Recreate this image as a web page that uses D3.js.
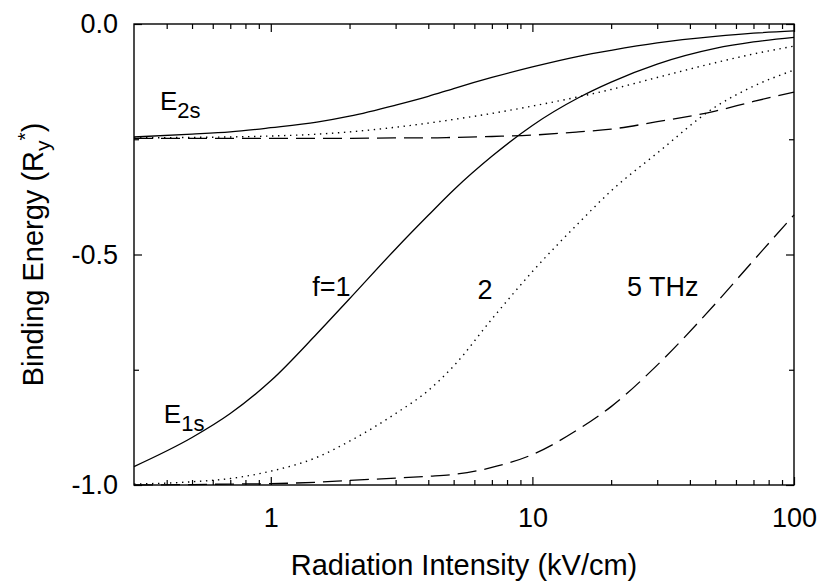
<!DOCTYPE html>
<html>
<head>
<meta charset="utf-8">
<script src="https://cdn.jsdelivr.net/npm/d3@7"></script>
<style>
  body { margin: 0; background: #fff; }
  text { fill: #000; }
</style>
</head>
<body>
<svg id="chart" width="822" height="585"></svg>
<script>
// radiation intensity (kV/cm), shared by every curve
const intensity = [0.3, 0.5, 0.7, 1, 1.5, 2, 3, 4, 5, 7, 10, 15, 20, 30, 50, 70, 100];

// binding energies (Ry*)
const e2sF1 = [-0.245, -0.239, -0.234, -0.225, -0.213, -0.200, -0.176, -0.157, -0.140, -0.116, -0.093, -0.070, -0.057, -0.041, -0.027, -0.020, -0.015];
const e1sF1 = [-0.960, -0.897, -0.845, -0.774, -0.672, -0.596, -0.488, -0.415, -0.360, -0.287, -0.220, -0.160, -0.126, -0.087, -0.053, -0.039, -0.029];
const e2sF2 = [-0.247, -0.246, -0.245, -0.243, -0.239, -0.234, -0.224, -0.215, -0.207, -0.194, -0.178, -0.158, -0.142, -0.116, -0.084, -0.065, -0.048];
const e1sF2 = [-0.998, -0.993, -0.986, -0.970, -0.940, -0.905, -0.845, -0.795, -0.742, -0.640, -0.537, -0.432, -0.362, -0.280, -0.180, -0.135, -0.100];
const e2sF5 = [-0.248, -0.248, -0.248, -0.248, -0.248, -0.248, -0.247, -0.247, -0.246, -0.244, -0.241, -0.234, -0.228, -0.212, -0.189, -0.168, -0.148];
const e1sF5 = [-1.000, -0.999, -0.998, -0.997, -0.994, -0.990, -0.985, -0.981, -0.977, -0.962, -0.934, -0.879, -0.830, -0.740, -0.607, -0.513, -0.414];

// ticks
const xMajorTicks = [1, 10, 100];
const xMinorTicks = [0.4, 0.5, 0.6, 0.7, 0.8, 0.9, 2, 3, 4, 5, 6, 7, 8, 9, 20, 30, 40, 50, 60, 70, 80, 90];
const yMajorTicks = [0, -0.5, -1.0];
const yMinorTicks = [-0.25, -0.75];

// annotations, anchored in data units
const labelText = ['f=1', '2', '5 THz'];
const labelX = [1.44, 6.17, 23.0];
const labelY = [-0.590, -0.597, -0.590];

const MARGIN = { LEFT: 134, RIGHT: 28, TOP: 24, BOTTOM: 100 };
const WIDTH = 822 - MARGIN.LEFT - MARGIN.RIGHT;
const HEIGHT = 585 - MARGIN.TOP - MARGIN.BOTTOM;
const FONT = '"Liberation Sans", Arial, Helvetica, sans-serif';

const svg = d3.select('#chart');
const g = svg.append('g')
    .attr('transform', `translate(${MARGIN.LEFT}, ${MARGIN.TOP})`);

const x = d3.scaleLog().domain([0.3, 100]).range([0, WIDTH]);
const y = d3.scaleLinear().domain([-1, 0]).range([HEIGHT, 0]);

// curves
const series = [
    { values: e2sF1, dash: null },
    { values: e1sF1, dash: null },
    { values: e2sF2, dash: '1.4,4.6' },
    { values: e1sF2, dash: '1.4,4.6' },
    { values: e2sF5, dash: '19,8' },
    { values: e1sF5, dash: '19,8' }
];

const line = d3.line()
    .x((d, i) => x(intensity[i]))
    .y(d => y(d))
    .curve(d3.curveMonotoneX);

g.selectAll('path.curve')
    .data(series)
    .enter()
    .append('path')
    .attr('class', 'curve')
    .attr('fill', 'none')
    .attr('stroke', '#000')
    .attr('stroke-width', d => d.dash === '1.4,4.6' ? 1.4 : 1.3)
    .attr('stroke-dasharray', d => d.dash)
    .attr('d', d => line(d.values));

// axes, ticks pointing inward on all four sides
function styleAxis(sel) {
    sel.select('.domain').remove();
    sel.attr('font-family', FONT).attr('font-size', 27);
    sel.selectAll('line').attr('stroke-width', 1.2);
}

g.append('g')
    .attr('transform', `translate(0, ${HEIGHT})`)
    .call(d3.axisBottom(x).tickValues(xMajorTicks).tickFormat(d3.format('~g')).tickSize(-8))
    .call(styleAxis)
    .selectAll('text').attr('y', 42).attr('dy', 0);
g.append('g')
    .attr('transform', `translate(0, ${HEIGHT})`)
    .call(d3.axisBottom(x).tickValues(xMinorTicks).tickFormat('').tickSize(-5))
    .call(styleAxis);
g.append('g')
    .call(d3.axisTop(x).tickValues(xMajorTicks).tickFormat('').tickSize(-8))
    .call(styleAxis);
g.append('g')
    .call(d3.axisTop(x).tickValues(xMinorTicks).tickFormat('').tickSize(-5))
    .call(styleAxis);

g.append('g')
    .call(d3.axisLeft(y).tickValues(yMajorTicks).tickFormat(d => d.toFixed(1)).tickSize(-8).tickPadding(16))
    .call(styleAxis);
g.append('g')
    .call(d3.axisLeft(y).tickValues(yMinorTicks).tickFormat('').tickSize(-5))
    .call(styleAxis);
g.append('g')
    .attr('transform', `translate(${WIDTH}, 0)`)
    .call(d3.axisRight(y).tickValues(yMajorTicks).tickFormat('').tickSize(-8))
    .call(styleAxis);
g.append('g')
    .attr('transform', `translate(${WIDTH}, 0)`)
    .call(d3.axisRight(y).tickValues(yMinorTicks).tickFormat('').tickSize(-5))
    .call(styleAxis);

// frame
g.append('rect')
    .attr('width', WIDTH)
    .attr('height', HEIGHT)
    .attr('fill', 'none')
    .attr('stroke', '#000')
    .attr('stroke-width', 1.4);

// axis titles
g.append('text')
    .attr('x', WIDTH / 2)
    .attr('y', HEIGHT + 90)
    .attr('text-anchor', 'middle')
    .attr('font-family', FONT)
    .attr('font-size', 29)
    .text('Radiation Intensity (kV/cm)');

let yTitle = g.append('text')
    .attr('transform', `translate(${43 - MARGIN.LEFT}, ${HEIGHT / 2}) rotate(-90)`)
    .attr('text-anchor', 'middle')
    .attr('font-family', FONT)
    .attr('font-size', 29);
yTitle.append('tspan').text('Binding Energy (R');
yTitle.append('tspan').attr('font-size', 21).attr('dy', 7).text('y');
yTitle.append('tspan').attr('font-size', 21).attr('dy', -18).text('*');
yTitle.append('tspan').attr('dy', 11).text(')');

// curve annotations
g.selectAll('text.note')
    .data(labelText)
    .enter()
    .append('text')
    .attr('class', 'note')
    .attr('x', (d, i) => x(labelX[i]))
    .attr('y', (d, i) => y(labelY[i]))
    .attr('font-family', FONT)
    .attr('font-size', 27)
    .text(d => d);

// level labels E2s / E1s
const levelText = ['2s', '1s'];
const levelX = [0.377, 0.390];
const levelY = [-0.187, -0.866];
levelText.forEach((sub, i) => {
    let t = g.append('text')
        .attr('x', x(levelX[i]))
        .attr('y', y(levelY[i]))
        .attr('font-family', FONT)
        .attr('font-size', 26);
    t.append('tspan').text('E');
    t.append('tspan').attr('font-size', 22).attr('dy', 8).text(sub);
});
</script>
</body>
</html>
